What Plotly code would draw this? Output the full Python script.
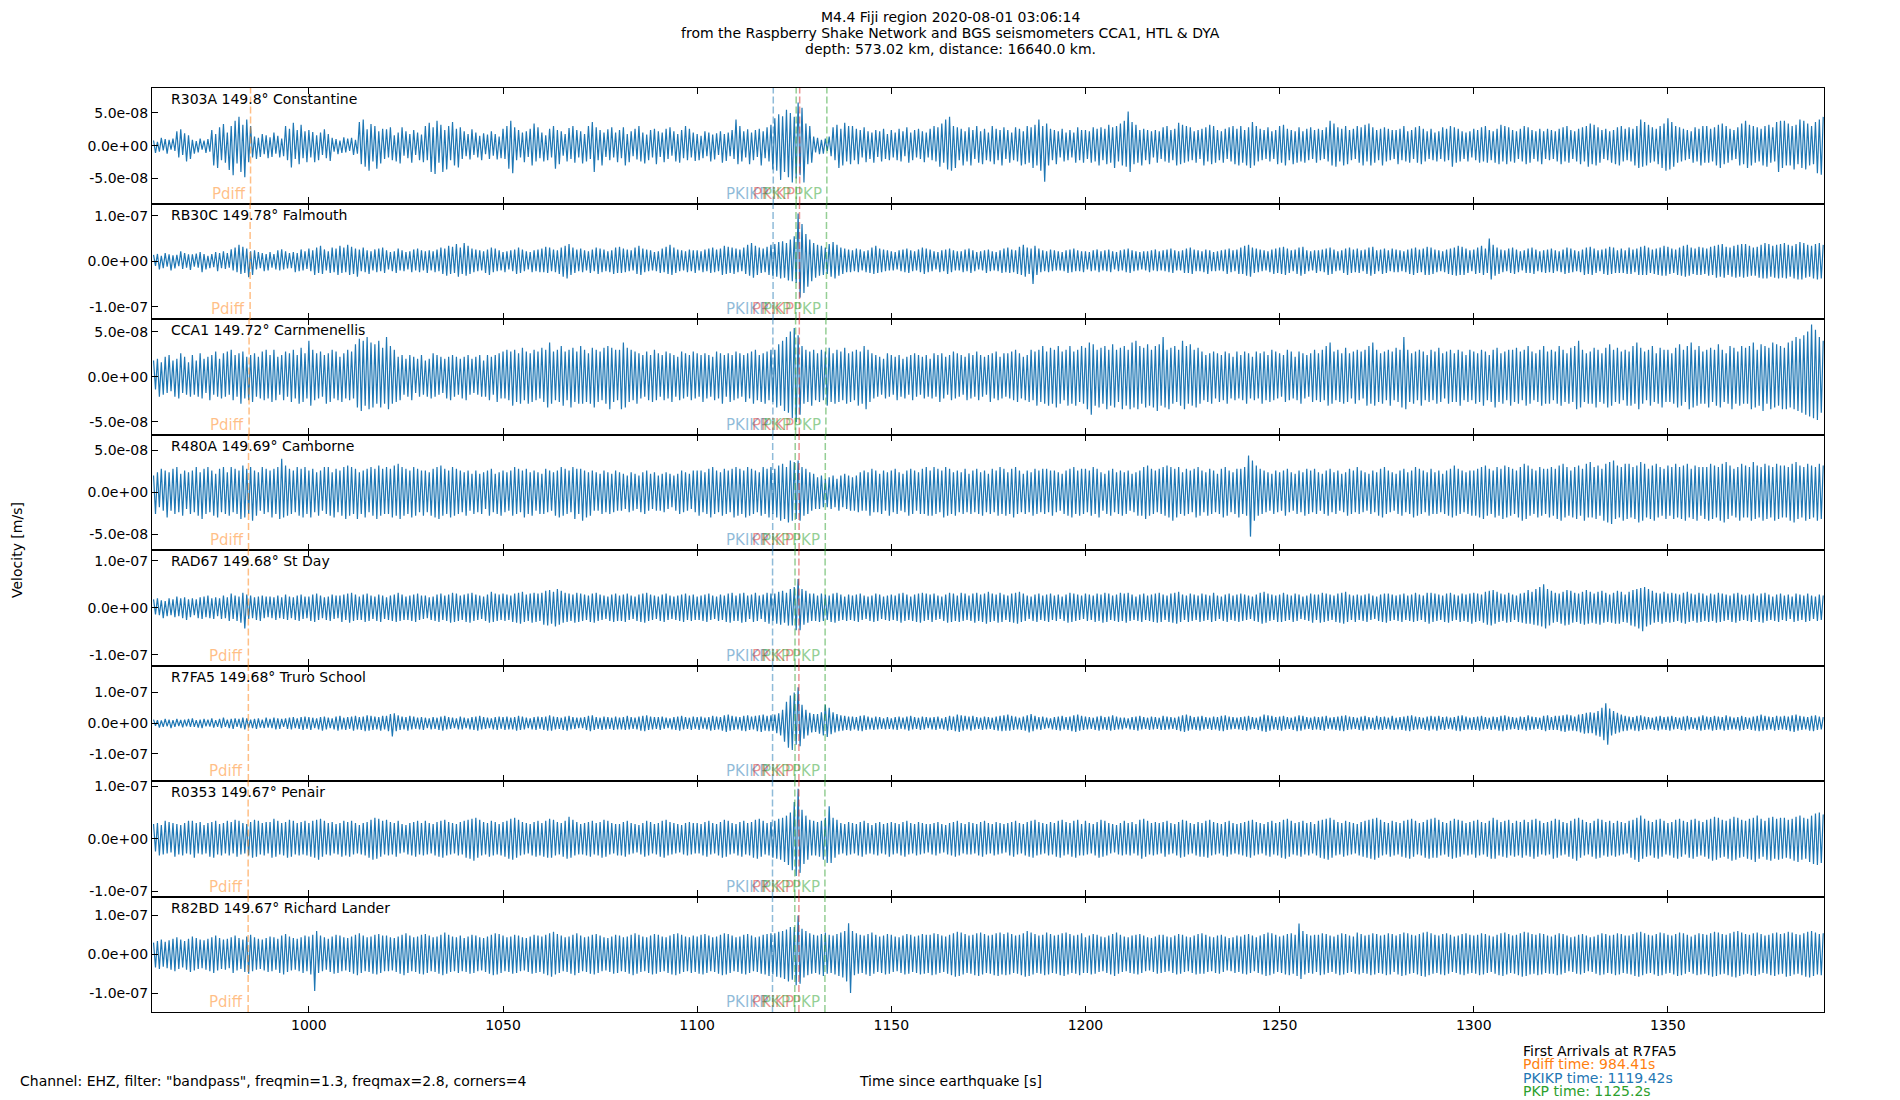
import numpy as np
import plotly.graph_objects as go
from plotly.subplots import make_subplots

# Figure geometry (pixels)
W, H = 1900, 1100
ML, MR, MT, MB = 152, 76, 88, 88

# Stations (top to bottom)
stations = ["R303A 149.8° Constantine", "RB30C 149.78° Falmouth", "CCA1 149.72° Carnmenellis",
            "R480A 149.69° Camborne", "RAD67 149.68° St Day", "R7FA5 149.68° Truro School",
            "R0353 149.67° Penair", "R82BD 149.67° Richard Lander"]

# Arrival times [s] per station
pdiff_t = [984.98, 984.87, 984.6, 984.46, 984.41, 984.41, 984.36, 984.36]
pkikp_t = [1119.6, 1119.55, 1119.5, 1119.45, 1119.42, 1119.42, 1119.4, 1119.4]
pkikp_refl_t = [1126.4, 1126.35, 1126.3, 1126.25, 1126.2, 1126.2, 1126.2, 1126.2]
pkp_t = [1125.5, 1125.45, 1125.35, 1125.25, 1125.2, 1125.2, 1125.15, 1125.15]
pkp2_t = [1133.4, 1133.3, 1133.15, 1133.0, 1132.95, 1132.95, 1132.9, 1132.9]

# y limits (m/s) and ticks per panel
y_half = [8.8e-8, 1.27e-7, 6.4e-8, 6.9e-8, 1.23e-7, 1.88e-7, 1.1e-7, 1.49e-7]
y_tick = [5e-8, 1e-7, 5e-8, 5e-8, 1e-7, 1e-7, 1e-7, 1e-7]

x_ticks = [1000, 1050, 1100, 1150, 1200, 1250, 1300, 1350]
x_range = [959.6, 1390.2]

# waveform samples in nm/s, one every half second from 960 s (each row = 10 s)
T0, DT = 960.0, 0.5

r303a = [
    8,-11,6,-9,12,-7,10,-12,9,-6,11,-8,22,-18,25,-14,19,-24,16,-20,
    9,-12,7,-10,11,-6,8,-11,10,-9,24,-30,18,-34,28,-22,33,-26,20,-37,
    30,-45,38,-27,44,-40,32,-48,40,-25,30,-18,14,-20,12,-17,18,-13,16,-19,
    13,-17,20,-12,15,-18,11,-16,30,-22,26,-33,35,-20,24,-28,32,-19,22,-25,
    24,-18,21,-25,16,-22,20,-14,25,-19,18,-23,12,-9,10,-13,8,-11,13,-10,
    11,-8,12,-14,9,-12,36,-28,40,-32,25,-38,33,-24,30,-35,22,-27,26,-20,
    25,-18,28,-22,16,-24,20,-27,28,-15,22,-19,18,-26,24,-14,20,-22,17,-25,
    30,-22,35,-40,28,-43,38,-26,32,-40,24,-36,30,-22,36,-30,26,-33,28,-20,
    22,-16,18,-21,25,-14,20,-18,15,-22,19,-13,17,-20,22,-15,18,-21,14,-19,
    26,-20,30,-35,38,-42,28,-22,24,-18,20,-25,22,-17,26,-30,34,-24,28,-19,
    20,-24,16,-22,26,-18,30,-35,24,-28,22,-15,18,-24,27,-20,30,-26,24,-18,
    22,-27,18,-24,30,-20,36,-40,28,-22,24,-30,20,-17,25,-22,28,-18,20,-25,
    24,-19,28,-30,18,-25,22,-16,26,-21,30,-24,20,-27,17,-22,24,-18,26,-28,
    22,-17,20,-25,26,-20,28,-15,22,-24,18,-26,24,-19,30,-22,26,-18,20,-23,
    18,-22,15,-19,22,-16,20,-24,17,-21,19,-14,22,-26,18,-23,20,-16,24,-20,
    40,-28,30,-24,22,-18,25,-28,20,-22,24,-17,26,-30,22,-19,28,-24,32,-36,
    42,-38,48,-52,45,-40,55,-48,50,-56,44,-50,66,-45,58,-56,34,-28,30,-26,
    14,-10,12,-13,9,-12,11,-8,14,-16,28,-22,32,-34,26,-30,35,-24,30,-28,
    30,-22,26,-28,24,-18,28,-25,22,-20,20,-26,24,-17,22,-24,26,-20,18,-22,
    24,-18,20,-22,26,-24,22,-16,28,-26,20,-22,24,-18,26,-20,22,-25,20,-18,
    26,-22,30,-24,28,-32,34,-26,40,-36,44,-38,30,-34,28,-22,26,-30,22,-24,
    28,-30,24,-20,30,-26,22,-28,26,-22,20,-24,30,-28,26,-22,24,-30,28,-20,
    24,-26,20,-22,28,-24,26,-30,22,-28,30,-26,28,-34,32,-30,40,-38,30,-55,
    34,-30,26,-22,24,-28,22,-18,26,-24,20,-22,24,-18,20,-26,28,-22,24,-26,
    24,-20,22,-26,28,-24,26,-30,28,-22,26,-28,32,-26,28,-34,30,-24,34,-30,
    38,-32,52,-40,36,-28,32,-26,24,-30,26,-22,24,-28,22,-18,24,-26,22,-20,
    28,-24,30,-26,24,-22,26,-30,35,-28,32,-26,30,-24,28,-22,22,-26,24,-20,
    26,-30,28,-24,32,-28,30,-26,24,-22,22,-26,26,-20,28,-24,30,-28,26,-30,
    30,-26,24,-30,28,-34,36,-30,30,-24,26,-22,24,-20,28,-24,22,-20,24,-28,
    30,-26,32,-30,26,-22,24,-28,22,-26,28,-24,22,-26,26,-22,28,-20,24,-26,
    26,-22,24,-20,28,-24,38,-30,34,-32,28,-24,26,-30,30,-28,24,-22,26,-20,
    30,-26,28,-30,32,-24,34,-30,28,-26,24,-22,26,-30,28,-24,26,-22,24,-20,
    24,-28,26,-22,30,-24,22,-26,24,-20,28,-26,30,-28,26,-24,22,-20,26,-22,
    20,-24,22,-20,28,-24,26,-22,30,-32,28,-26,26,-24,22,-20,20,-24,22,-18,
    26,-22,24,-26,28,-24,30,-26,24,-22,22,-26,26,-28,32,-24,30,-28,28,-24,
    24,-26,22,-20,26,-24,30,-28,28,-26,24,-20,22,-24,26,-28,22,-20,26,-22,
    24,-20,22,-24,26,-28,28,-24,30,-26,24,-20,22,-24,26,-28,28,-24,30,-32,
    34,-28,32,-30,28,-26,24,-20,26,-22,22,-26,24,-28,28,-30,30,-24,26,-22,
    28,-24,26,-30,30,-34,40,-32,36,-30,32,-26,28,-24,26,-28,30,-34,34,-38,
    42,-36,36,-32,30,-26,28,-24,26,-22,24,-20,22,-26,28,-24,26,-30,30,-26,
    30,-26,26,-24,28,-30,32,-34,34,-28,30,-26,26,-22,24,-20,28,-30,34,-28,
    38,-34,32,-30,30,-26,28,-24,26,-30,30,-32,32,-26,28,-24,36,-40,38,-34,
    38,-30,34,-30,30,-36,32,-28,40,-34,38,-36,34,-30,30,-28,36,-42,40,-44,
    44,
]

rb30c = [
    14,-10,16,-18,12,-15,18,-12,15,-20,13,-16,14,-11,22,-17,18,-14,15,-19,
    15,-12,17,-14,20,-24,16,-18,12,-15,16,-13,20,-22,18,-15,22,-17,18,-14,
    26,-20,30,-24,36,-28,32,-26,28,-35,22,-30,24,-18,20,-15,18,-22,16,-20,
    20,-14,16,-18,24,-20,26,-18,22,-16,18,-15,20,-24,18,-22,26,-20,22,-17,
    28,-22,24,-30,30,-26,34,-28,26,-20,22,-26,30,-24,28,-30,34,-26,30,-24,
    36,-30,32,-28,28,-34,26,-22,30,-24,24,-28,22,-20,26,-24,28,-22,30,-26,
    24,-18,20,-22,22,-26,28,-20,24,-22,20,-18,22,-24,26,-20,28,-24,24,-20,
    22,-26,24,-20,22,-24,26,-22,30,-28,28,-32,34,-28,32,-26,38,-34,30,-28,
    40,-32,34,-28,28,-24,26,-22,24,-20,22,-26,26,-30,30,-24,28,-22,24,-20,
    20,-24,22,-18,24,-22,26,-28,30,-26,26,-22,22,-18,20,-24,24,-22,26,-24,
    28,-24,32,-26,30,-22,26,-24,24,-28,30,-34,34,-38,38,-30,30,-26,26,-22,
    28,-24,24,-20,22,-26,26,-22,30,-28,28,-24,26,-22,22,-24,24,-28,30,-26,
    32,-26,28,-24,26,-22,24,-20,30,-28,34,-30,28,-24,26,-22,24,-20,20,-22,
    22,-26,28,-24,32,-28,36,-30,30,-26,26,-22,24,-20,22,-24,26,-22,24,-26,
    24,-20,22,-24,26,-22,28,-26,30,-24,26,-22,28,-30,34,-28,32,-26,30,-28,
    28,-24,26,-22,30,-28,36,-32,40,-36,34,-30,30,-26,28,-24,32,-30,36,-32,
    38,-34,42,-38,44,-36,40,-42,48,-44,55,-48,105,-80,82,-70,60,-56,48,-44,
    40,-36,36,-32,34,-30,30,-28,38,-34,42,-38,36,-32,30,-28,28,-24,26,-24,
    24,-22,28,-24,26,-20,22,-24,24,-26,30,-28,34,-26,28,-24,26,-22,24,-20,
    22,-20,20,-18,24,-22,26,-24,28,-26,24,-22,22,-20,26,-24,30,-28,28,-24,
    26,-22,22,-18,20,-24,24,-22,26,-28,28,-24,24,-20,22,-20,22,-24,26,-22,
    28,-26,24,-22,20,-18,22,-20,24,-26,26,-22,22,-20,20,-22,24,-26,28,-24,
    30,-26,26,-24,24,-28,32,-30,36,-34,30,-28,28,-50,34,-30,28,-24,24,-22,
    22,-24,26,-22,24,-20,22,-20,20,-22,24,-26,26,-24,28,-22,24,-22,22,-24,
    22,-18,20,-22,24,-20,26,-24,22,-20,24,-22,26,-24,22,-18,20,-22,24,-20,
    26,-24,28,-26,24,-22,22,-20,20,-18,22,-20,22,-24,24,-20,26,-22,22,-20,
    24,-22,26,-24,28,-26,24,-20,22,-20,24,-26,28,-26,30,-28,26,-22,24,-22,
    22,-24,26,-28,24,-22,20,-22,22,-20,24,-22,26,-28,28,-24,24,-22,26,-28,
    30,-28,34,-32,36,-34,30,-26,28,-24,26,-22,24,-20,22,-24,26,-28,28,-26,
    30,-28,32,-30,28,-26,24,-22,26,-28,30,-32,32,-28,24,-22,22,-20,24,-26,
    24,-22,26,-24,28,-30,30,-28,26,-22,22,-20,24,-26,28,-30,30,-26,26,-24,
    28,-26,24,-22,26,-28,30,-32,32,-28,24,-22,26,-28,28,-26,24,-22,28,-24,
    26,-24,24,-22,22,-24,26,-28,28,-30,30,-26,26,-24,28,-30,32,-30,30,-28,
    26,-24,24,-22,22,-24,26,-28,28,-30,30,-32,34,-30,32,-30,28,-26,24,-22,
    26,-28,30,-26,34,-30,28,-26,50,-40,36,-32,30,-28,26,-24,24,-22,28,-26,
    30,-28,26,-24,22,-20,24,-26,28,-26,30,-28,26,-22,22,-24,24,-26,26,-24,
    28,-26,24,-22,22,-24,26,-28,30,-26,28,-24,24,-22,22,-24,26,-30,30,-28,
    32,-30,28,-26,24,-22,26,-28,28,-30,32,-28,30,-26,24,-26,28,-26,24,-28,
    30,-28,26,-24,28,-30,32,-30,34,-30,30,-26,26,-28,28,-30,30,-32,34,-32,
    32,-28,28,-26,26,-30,30,-32,34,-34,36,-32,30,-28,28,-30,32,-30,30,-28,
    28,-32,32,-30,34,-36,36,-34,38,-36,32,-30,30,-34,34,-36,36,-34,38,-36,
    38,-34,34,-32,30,-32,32,-36,36,-38,40,-38,38,-34,34,-36,36,-38,38,-36,
    40,-38,36,-34,34,-38,38,-40,42,-40,40,-36,36,-34,34,-38,38,-40,40,-38,
    36,
]

cca1 = [
    18,-14,20,-22,16,-20,22,-18,24,-16,18,-22,20,-24,26,-18,22,-20,16,-22,
    24,-20,18,-22,26,-24,20,-18,22,-26,24,-20,28,-22,20,-24,26,-22,28,-20,
    30,-26,24,-22,26,-30,28,-24,22,-26,24,-28,26,-22,22,-24,28,-26,30,-24,
    24,-28,30,-26,22,-20,24,-26,28,-22,26,-28,30,-24,24,-30,32,-28,26,-24,
    40,-32,30,-26,26,-24,28,-22,24,-30,26,-28,30,-24,28,-26,22,-28,26,-24,
    30,-26,28,-24,36,-34,42,-38,40,-32,44,-36,38,-34,36,-30,40,-34,32,-30,
    44,-36,34,-30,30,-28,22,-26,24,-20,20,-22,24,-26,22,-18,20,-22,24,-20,
    18,-22,20,-24,26,-22,24,-20,22,-18,20,-24,22,-26,24,-22,22,-20,20,-24,
    22,-26,24,-20,20,-18,22,-20,24,-22,18,-22,24,-26,22,-20,24,-28,26,-24,
    28,-24,30,-26,28,-32,30,-28,26,-30,32,-26,28,-30,26,-28,30,-26,28,-24,
    32,-28,30,-34,38,-30,28,-26,30,-28,34,-32,28,-26,30,-34,32,-28,28,-30,
    34,-30,30,-28,26,-30,32,-34,30,-28,28,-26,32,-30,34,-36,32,-28,30,-26,
    30,-36,38,-34,32,-28,30,-26,28,-30,26,-24,24,-22,28,-26,24,-28,30,-26,
    26,-22,24,-26,28,-24,26,-28,24,-22,22,-26,28,-24,26,-22,24,-26,28,-24,
    26,-22,24,-28,26,-24,24,-22,22,-26,28,-24,26,-30,24,-22,26,-28,24,-26,
    28,-24,26,-22,24,-28,26,-24,28,-30,30,-26,24,-28,26,-30,28,-26,30,-28,
    30,-34,36,-32,40,-38,44,-40,50,-46,54,-50,46,-42,34,-30,30,-28,28,-32,
    30,-26,26,-28,30,-26,28,-32,32,-28,26,-30,30,-28,28,-26,32,-30,26,-28,
    28,-26,30,-32,28,-30,34,-36,30,-28,26,-24,24,-22,22,-20,20,-24,26,-22,
    24,-20,22,-26,24,-22,20,-24,22,-20,24,-26,26,-22,24,-20,22,-24,24,-22,
    20,-24,26,-22,24,-28,26,-24,22,-20,24,-26,28,-24,26,-22,24,-20,22,-26,
    26,-24,24,-22,28,-26,24,-22,22,-20,24,-28,26,-24,28,-26,22,-24,26,-22,
    26,-24,28,-26,30,-28,26,-24,22,-26,24,-28,30,-26,28,-32,30,-28,34,-30,
    28,-32,32,-30,30,-34,34,-30,28,-26,30,-32,34,-30,28,-32,30,-28,34,-30,
    32,-36,38,-42,36,-32,30,-34,32,-30,34,-36,30,-32,36,-34,30,-28,32,-36,
    34,-32,30,-36,38,-34,40,-36,34,-30,32,-34,36,-32,30,-34,34,-38,36,-32,
    44,-34,30,-36,32,-30,34,-28,30,-32,40,-36,34,-30,36,-32,30,-34,32,-30,
    28,-26,24,-28,26,-30,28,-24,26,-28,24,-26,28,-30,26,-24,22,-26,28,-24,
    24,-26,28,-30,26,-24,22,-26,28,-24,26,-30,28,-26,24,-28,30,-26,28,-24,
    26,-22,24,-28,30,-26,28,-24,22,-26,28,-30,26,-24,24,-22,26,-28,30,-26,
    26,-28,30,-26,34,-32,38,-30,28,-26,30,-28,26,-30,32,-28,26,-24,28,-30,
    30,-26,28,-24,30,-32,34,-30,38,-32,30,-28,26,-30,28,-26,30,-32,28,-26,
    32,-28,30,-34,44,-36,30,-28,26,-30,28,-26,30,-32,28,-26,24,-28,30,-26,
    28,-30,32,-28,26,-24,28,-30,30,-28,26,-28,30,-32,28,-26,24,-28,30,-26,
    28,-30,26,-28,30,-32,28,-26,24,-28,30,-34,32,-28,26,-30,28,-26,30,-32,
    30,-28,32,-30,28,-26,30,-32,34,-30,28,-26,26,-28,30,-32,34,-30,28,-30,
    30,-26,28,-30,34,-32,30,-28,26,-30,32,-28,34,-36,40,-34,30,-28,26,-30,
    28,-30,32,-34,30,-28,26,-30,32,-34,36,-32,30,-28,32,-30,28,-26,30,-32,
    28,-32,34,-30,38,-36,32,-30,28,-26,30,-32,34,-28,26,-30,32,-34,30,-28,
    30,-28,26,-30,32,-34,36,-32,30,-28,34,-36,38,-34,30,-32,34,-30,28,-30,
    30,-34,32,-28,30,-32,36,-34,30,-28,26,-30,34,-36,32,-30,28,-32,34,-30,
    32,-30,34,-36,38,-34,30,-32,36,-38,34,-30,32,-36,38,-34,36,-32,34,-36,
    32,-36,38,-34,40,-36,44,-38,42,-40,46,-42,50,-44,58,-46,52,-48,44,-40,
    40,
]

r480a = [
    20,-26,24,-18,28,-22,26,-30,24,-22,28,-26,30,-24,22,-28,26,-20,24,-26,
    26,-24,30,-28,24,-32,28,-26,30,-24,26,-28,22,-30,28,-24,30,-26,24,-28,
    30,-24,28,-26,26,-32,32,-30,28,-26,30,-34,26,-28,24,-22,30,-26,28,-24,
    26,-30,28,-26,30,-32,40,-30,32,-28,28,-26,26,-24,30,-28,28,-30,30,-26,
    26,-30,28,-24,24,-28,26,-22,30,-26,30,-28,24,-30,28,-24,26,-28,30,-32,
    32,-28,30,-26,28,-32,24,-26,26,-30,28,-24,30,-28,28,-32,32,-28,28,-26,
    30,-26,28,-30,32,-28,34,-32,30,-28,28,-26,26,-30,30,-28,28,-24,26,-28,
    26,-24,24,-28,28,-30,30,-32,32,-28,28,-26,26,-30,30,-28,28,-26,26,-24,
    24,-28,26,-22,22,-26,26,-24,22,-26,24,-20,26,-28,28,-24,22,-26,24,-28,
    26,-24,24,-22,26,-28,30,-26,28,-24,26,-30,28,-26,24,-28,26,-22,24,-26,
    22,-26,28,-24,26,-22,24,-28,26,-30,30,-28,28,-26,26,-24,30,-32,28,-26,
    28,-34,26,-30,24,-28,26,-22,24,-22,22,-26,26,-24,24,-26,22,-24,26,-22,
    24,-22,22,-20,20,-24,24,-22,22,-20,20,-24,24,-26,26,-22,22,-20,24,-22,
    20,-22,22,-24,24,-20,22,-18,20,-22,22,-26,26,-24,24,-22,22,-20,26,-24,
    26,-28,26,-24,24,-26,28,-30,30,-26,26,-24,24,-28,28,-26,26,-24,28,-30,
    30,-28,28,-26,26,-30,30,-28,28,-26,26,-24,24,-28,30,-26,28,-30,30,-26,
    28,-30,32,-34,34,-32,30,-36,38,-34,36,-32,38,-34,30,-28,28,-26,24,-22,
    22,-20,18,-20,20,-18,16,-18,18,-20,20,-18,16,-22,20,-18,22,-20,20,-22,
    18,-22,20,-24,24,-22,26,-22,24,-28,28,-24,26,-24,22,-26,26,-22,24,-28,
    26,-24,28,-26,24,-22,22,-24,26,-28,28,-26,26,-22,24,-26,28,-26,30,-28,
    26,-28,30,-26,28,-24,26,-30,30,-28,28,-26,24,-28,26,-24,24,-26,28,-24,
    22,-26,26,-24,28,-26,24,-28,26,-24,22,-26,28,-24,26,-28,30,-26,28,-28,
    24,-26,28,-30,30,-26,26,-24,22,-26,26,-24,24,-28,28,-26,26,-24,28,-26,
    28,-24,26,-28,26,-24,24,-22,22,-26,26,-28,28,-30,30,-26,26,-28,28,-26,
    28,-24,26,-28,30,-26,28,-30,24,-22,22,-26,26,-28,28,-24,24,-26,26,-28,
    24,-26,26,-22,22,-24,24,-28,26,-28,30,-32,32,-28,28,-26,26,-24,28,-26,
    30,-28,32,-30,30,-34,28,-30,30,-26,24,-28,28,-26,26,-24,28,-30,30,-28,
    26,-24,24,-28,28,-26,26,-24,22,-26,28,-30,30,-28,26,-24,24,-26,28,-30,
    28,-26,30,-28,44,-53,38,-34,32,-28,28,-26,26,-24,24,-22,22,-26,26,-24,
    24,-22,26,-28,28,-24,24,-22,22,-26,26,-24,24,-28,28,-26,26,-24,28,-26,
    24,-22,22,-26,26,-28,28,-24,24,-26,26,-22,22,-24,24,-28,28,-26,26,-24,
    30,-26,26,-24,24,-22,22,-26,26,-24,24,-28,28,-30,30,-26,26,-24,24,-22,
    22,-26,26,-28,28,-24,24,-26,26,-30,30,-28,28,-26,26,-24,24,-28,28,-26,
    24,-26,26,-24,22,-26,26,-28,28,-30,32,-28,28,-26,26,-24,24,-26,26,-28,
    26,-28,28,-30,30,-32,32,-28,28,-26,26,-30,30,-28,28,-32,32,-30,30,-28,
    28,-26,26,-30,30,-34,34,-32,32,-28,28,-26,26,-30,30,-28,28,-26,28,-30,
    30,-28,28,-32,32,-34,34,-30,30,-28,26,-30,30,-32,32,-28,28,-34,34,-30,
    36,-30,30,-32,32,-28,28,-34,34,-36,36,-38,38,-32,32,-30,30,-34,34,-32,
    34,-30,30,-32,32,-36,36,-34,34,-30,28,-32,32,-34,34,-30,30,-28,28,-32,
    32,-28,30,-32,34,-30,30,-32,32,-34,34,-30,28,-32,32,-34,30,-28,30,-32,
    30,-34,34,-32,32,-30,30,-34,34,-36,36,-32,32,-28,28,-30,30,-34,34,-30,
    32,-30,30,-34,36,-32,32,-30,30,-34,34,-32,32,-30,30,-34,34,-32,32,-30,
    32,-30,30,-34,34,-36,36,-32,32,-30,30,-34,34,-32,32,-30,30,-34,34,-32,
    32,
]

rad67 = [
    18,-14,20,-16,16,-22,14,-18,20,-16,18,-20,24,-18,20,-22,22,-26,18,-20,
    20,-16,18,-22,22,-24,24,-20,26,-22,20,-24,22,-18,20,-24,26,-22,22,-28,
    30,-24,26,-28,24,-32,32,-44,28,-24,26,-22,22,-26,24,-28,26,-22,24,-20,
    24,-22,22,-26,26,-22,22,-24,28,-26,24,-22,22,-26,26,-28,28,-24,24,-22,
    24,-28,28,-30,30,-26,26,-22,22,-26,24,-28,28,-24,26,-22,26,-30,28,-26,
    30,-32,32,-28,28,-26,24,-26,28,-30,30,-28,26,-24,24,-28,28,-30,26,-24,
    22,-26,26,-28,28,-30,32,-28,28,-26,24,-26,26,-28,28,-30,30,-26,26,-24,
    26,-22,22,-26,24,-28,28,-30,30,-26,26,-28,28,-32,32,-30,30,-28,26,-26,
    28,-30,30,-32,32,-28,28,-26,26,-24,24,-28,28,-32,34,-30,30,-28,28,-26,
    30,-28,28,-26,26,-30,30,-32,32,-34,34,-30,28,-28,30,-32,32,-30,30,-28,
    32,-36,36,-38,38,-34,34,-40,40,-36,36,-32,32,-30,30,-28,28,-32,32,-30,
    30,-28,28,-26,26,-30,30,-32,32,-28,28,-26,26,-24,24,-28,28,-30,30,-28,
    26,-28,28,-30,30,-26,26,-24,24,-28,28,-30,30,-32,32,-28,28,-26,26,-24,
    24,-28,28,-30,30,-26,26,-24,24,-26,26,-28,28,-30,30,-26,26,-28,28,-26,
    24,-26,26,-28,28,-30,30,-26,26,-24,24,-28,28,-26,26,-30,30,-32,32,-28,
    26,-28,30,-32,32,-30,26,-24,28,-30,32,-28,26,-24,28,-30,32,-34,30,-28,
    30,-34,34,-36,36,-32,32,-38,40,-38,44,-48,61,-48,40,-36,36,-32,30,-28,
    30,-28,26,-30,30,-28,28,-26,26,-30,30,-32,32,-28,28,-26,24,-28,28,-26,
    26,-28,28,-30,30,-26,26,-24,24,-28,26,-30,30,-28,28,-24,24,-26,26,-28,
    28,-26,26,-28,30,-32,32,-28,28,-26,24,-28,28,-30,30,-32,32,-28,30,-26,
    28,-30,30,-26,26,-24,24,-28,28,-32,32,-30,30,-28,26,-30,32,-28,30,-26,
    26,-28,30,-32,32,-28,28,-30,30,-34,34,-30,30,-28,28,-32,32,-30,28,-26,
    26,-30,30,-32,32,-34,34,-30,30,-28,26,-24,24,-28,28,-30,30,-26,26,-28,
    28,-30,30,-26,26,-28,28,-24,24,-28,28,-32,32,-30,30,-28,28,-26,26,-24,
    30,-28,28,-26,26,-30,30,-28,28,-32,32,-30,30,-26,26,-28,28,-30,32,-28,
    30,-32,32,-28,28,-26,24,-28,28,-30,30,-26,26,-28,28,-30,30,-32,32,-30,
    28,-26,26,-30,30,-32,32,-34,34,-30,28,-26,26,-30,30,-28,28,-26,26,-30,
    30,-28,28,-26,26,-30,32,-28,26,-24,24,-28,28,-30,30,-26,26,-28,28,-30,
    30,-28,28,-26,26,-24,24,-28,28,-30,32,-34,34,-32,30,-28,28,-26,26,-30,
    28,-30,32,-28,28,-26,26,-30,30,-28,28,-24,24,-26,26,-28,30,-32,28,-26,
    28,-32,32,-30,30,-28,28,-26,26,-30,30,-32,32,-34,34,-30,28,-26,26,-30,
    28,-26,26,-28,28,-30,30,-26,26,-24,24,-28,28,-30,30,-32,30,-28,28,-26,
    26,-28,28,-30,30,-26,26,-28,28,-30,32,-28,28,-26,26,-30,32,-34,32,-30,
    30,-28,28,-26,26,-30,30,-32,32,-28,28,-26,26,-30,30,-28,28,-30,30,-34,
    32,-30,30,-28,28,-32,34,-36,36,-38,38,-34,34,-30,30,-28,28,-32,32,-30,
    28,-26,26,-30,30,-32,32,-34,38,-34,34,-36,40,-38,44,-40,50,-44,40,-38,
    36,-32,32,-30,30,-34,34,-38,38,-36,36,-32,32,-30,30,-34,34,-36,38,-34,
    34,-32,30,-34,34,-36,36,-32,32,-30,28,-32,32,-34,36,-34,34,-30,28,-32,
    34,-38,38,-40,40,-44,42,-50,44,-40,40,-36,36,-32,32,-30,30,-34,34,-30,
    30,-32,32,-30,30,-28,28,-32,32,-34,34,-30,30,-28,28,-32,32,-30,30,-28,
    26,-30,30,-28,28,-32,32,-30,30,-28,28,-26,26,-30,30,-32,32,-28,28,-26,
    26,-28,28,-30,30,-26,26,-30,30,-32,32,-28,28,-26,24,-28,28,-30,30,-26,
    26,-28,28,-24,24,-30,30,-28,28,-26,26,-30,30,-28,26,-24,24,-28,28,-26,
    26,
]

r7fa5 = [
    12,-8,10,-14,9,-12,14,-10,12,-16,10,-12,14,-9,11,-13,12,-10,14,-12,
    16,-12,10,-14,12,-16,14,-10,12,-11,16,-14,10,-12,14,-16,18,-12,12,-16,
    14,-18,16,-12,14,-16,18,-20,16,-14,12,-16,14,-18,16,-14,12,-16,18,-14,
    14,-16,18,-20,16,-18,14,-12,16,-18,18,-20,20,-16,16,-18,20,-22,22,-18,
    20,-22,18,-16,16,-20,20,-24,22,-20,18,-16,16,-20,22,-24,24,-20,18,-22,
    20,-18,22,-24,24,-20,20,-22,22,-26,26,-24,24,-22,22,-20,20,-24,24,-20,
    24,-26,30,-43,32,-26,26,-22,22,-20,20,-24,24,-20,22,-18,18,-20,20,-22,
    18,-16,16,-20,20,-18,18,-22,22,-24,24,-20,20,-18,18,-16,16,-20,22,-20,
    18,-16,16,-20,20,-22,22,-24,24,-20,20,-18,18,-16,16,-20,20,-22,22,-18,
    20,-22,22,-20,18,-20,20,-24,24,-22,22,-20,18,-16,16,-20,20,-22,22,-18,
    20,-22,22,-24,26,-24,22,-20,20,-18,18,-22,22,-24,24,-20,20,-18,18,-16,
    18,-16,20,-22,24,-26,26,-22,20,-18,18,-22,22,-20,20,-18,18,-22,22,-20,
    18,-20,20,-22,24,-20,20,-18,18,-20,22,-24,24,-26,26,-22,22,-20,20,-18,
    20,-22,22,-18,18,-16,16,-20,20,-22,22,-24,24,-20,20,-18,18,-22,22,-18,
    20,-22,22,-18,18,-20,20,-24,24,-22,22,-20,20,-24,26,-28,28,-24,24,-22,
    22,-20,20,-24,24,-26,26,-22,22,-20,24,-26,26,-28,28,-24,24,-26,26,-24,
    28,-32,32,-40,44,-60,70,-80,90,-87,100,-70,117,-75,60,-50,44,-40,34,-30,
    30,-28,30,-34,36,-40,60,-45,50,-36,36,-30,30,-26,26,-24,24,-22,22,-24,
    22,-20,20,-24,24,-26,26,-22,22,-20,18,-22,22,-20,20,-18,16,-20,20,-18,
    16,-20,20,-22,22,-18,18,-20,22,-24,24,-20,20,-18,18,-22,22,-20,20,-16,
    18,-20,20,-22,22,-18,16,-20,20,-24,24,-22,22,-26,28,-28,26,-24,24,-20,
    22,-24,24,-20,20,-18,18,-22,22,-20,20,-18,18,-22,22,-24,24,-26,26,-24,
    28,-24,24,-22,22,-20,18,-22,22,-24,26,-30,30,-26,24,-20,20,-22,22,-18,
    18,-16,16,-20,20,-22,22,-24,24,-20,20,-22,22,-26,26,-28,28,-24,24,-22,
    22,-20,20,-18,18,-22,22,-24,24,-20,20,-22,22,-24,26,-22,22,-20,18,-20,
    18,-16,16,-20,20,-22,22,-24,24,-20,20,-18,18,-22,22,-20,20,-18,18,-22,
    24,-22,22,-20,20,-18,18,-22,22,-26,26,-28,28,-24,24,-20,20,-22,22,-24,
    24,-20,20,-18,18,-22,22,-20,20,-24,24,-26,26,-22,22,-20,20,-18,18,-20,
    20,-22,22,-24,24,-20,20,-18,18,-22,22,-26,28,-28,26,-24,24,-20,20,-22,
    22,-24,24,-20,20,-18,18,-22,22,-26,26,-24,24,-20,20,-18,18,-22,22,-20,
    20,-22,22,-24,24,-18,18,-20,20,-22,22,-24,24,-26,26,-22,22,-20,20,-18,
    18,-22,22,-24,24,-20,20,-18,18,-22,24,-20,20,-22,22,-18,18,-20,24,-22,
    18,-20,20,-22,22,-24,24,-26,26,-22,22,-20,20,-18,18,-22,22,-24,24,-20,
    22,-24,24,-20,20,-22,22,-18,18,-20,20,-24,24,-26,26,-22,22,-20,18,-22,
    20,-22,22,-24,24,-20,20,-18,18,-22,22,-20,20,-24,24,-26,26,-22,22,-20,
    20,-18,18,-22,22,-20,20,-24,26,-22,22,-20,20,-18,18,-22,24,-26,26,-22,
    20,-22,24,-22,24,-26,26,-28,28,-24,26,-24,22,-26,28,-30,30,-34,34,-32,
    36,-32,34,-40,40,-44,50,-55,65,-70,48,-40,40,-34,34,-30,28,-26,24,-24,
    22,-20,20,-24,24,-26,26,-22,22,-20,20,-18,18,-22,22,-24,24,-20,20,-22,
    22,-24,24,-20,20,-18,18,-22,22,-24,24,-20,20,-18,18,-22,22,-24,26,-22,
    22,-20,20,-24,24,-22,22,-20,20,-24,26,-22,22,-20,18,-20,20,-24,24,-22,
    20,-18,18,-22,22,-24,24,-26,28,-24,24,-22,22,-20,20,-24,24,-22,22,-20,
    24,-22,22,-26,26,-28,28,-24,24,-22,22,-20,20,-24,24,-26,26,-22,22,-20,
    20,
]

r0353 = [
    28,-24,30,-32,26,-30,34,-28,32,-26,30,-34,28,-30,26,-32,30,-28,34,-30,
    34,-36,30,-28,32,-30,26,-28,30,-34,32,-36,34,-30,28,-32,30,-28,34,-32,
    32,-28,36,-34,34,-30,30,-28,28,-32,32,-36,36,-34,34,-30,30,-32,32,-28,
    32,-36,38,-34,34,-30,30,-32,32,-36,36,-34,34,-30,30,-32,32,-30,34,-32,
    30,-34,34,-36,36,-40,38,-34,34,-30,30,-32,32,-28,28,-30,30,-34,34,-32,
    32,-34,34,-30,30,-28,26,-30,30,-32,32,-36,36,-40,40,-38,38,-34,34,-30,
    36,-32,32,-30,30,-34,34,-28,28,-26,26,-30,30,-32,32,-34,34,-30,30,-32,
    34,-30,30,-28,28,-32,32,-34,34,-36,36,-32,32,-30,30,-28,28,-32,32,-30,
    34,-36,36,-38,38,-42,40,-36,36,-32,32,-30,30,-34,34,-32,32,-30,28,-32,
    32,-34,34,-38,38,-40,40,-36,36,-32,32,-30,30,-28,28,-32,32,-34,34,-32,
    30,-34,34,-36,38,-36,36,-32,32,-30,30,-34,34,-38,42,-36,36,-32,32,-30,
    28,-30,30,-32,32,-34,34,-30,30,-32,32,-36,36,-34,34,-30,30,-28,28,-32,
    28,-32,32,-34,34,-30,30,-28,28,-26,26,-30,30,-34,34,-32,32,-28,28,-30,
    30,-34,34,-36,36,-32,32,-30,30,-28,28,-26,26,-30,30,-32,32,-30,30,-28,
    30,-28,28,-32,32,-34,34,-30,30,-28,28,-32,32,-36,36,-34,34,-30,30,-28,
    28,-32,32,-34,34,-30,30,-32,32,-36,36,-38,38,-34,34,-30,30,-32,32,-36,
    34,-38,38,-40,40,-44,44,-50,50,-60,70,-71,95,-65,55,-48,44,-40,36,-32,
    34,-32,32,-34,34,-40,40,-46,62,-46,40,-36,36,-30,30,-28,28,-32,32,-30,
    30,-28,28,-32,32,-34,34,-30,30,-28,26,-30,30,-32,32,-28,28,-30,30,-34,
    32,-30,30,-28,28,-32,32,-34,34,-30,30,-28,28,-32,32,-30,30,-28,28,-26,
    28,-30,30,-32,32,-28,28,-26,26,-30,30,-32,32,-34,34,-32,30,-28,28,-30,
    32,-30,30,-28,28,-32,32,-34,34,-30,30,-28,28,-32,32,-30,30,-28,28,-26,
    30,-32,32,-34,34,-30,30,-28,28,-32,32,-34,34,-36,36,-32,32,-30,30,-28,
    28,-32,32,-30,30,-34,34,-36,36,-32,32,-30,30,-34,34,-36,36,-32,28,-32,
    34,-30,30,-28,28,-32,32,-36,36,-34,34,-32,30,-28,28,-26,26,-30,30,-32,
    34,-30,30,-32,32,-28,28,-32,36,-38,38,-34,34,-30,30,-32,32,-30,30,-28,
    32,-34,34,-30,30,-28,28,-32,32,-36,36,-34,34,-30,30,-28,28,-32,32,-34,
    30,-34,34,-36,36,-32,32,-30,30,-28,28,-32,32,-34,34,-30,30,-28,28,-30,
    30,-32,32,-34,34,-36,36,-32,32,-30,30,-28,28,-32,32,-34,34,-30,30,-32,
    32,-36,36,-38,38,-34,34,-30,30,-32,32,-34,34,-30,30,-32,32,-28,28,-32,
    34,-36,36,-38,38,-40,40,-36,36,-32,32,-30,30,-34,34,-32,32,-30,30,-28,
    28,-32,32,-34,34,-36,36,-38,38,-40,40,-36,36,-32,32,-30,30,-34,34,-32,
    32,-30,30,-34,34,-36,36,-38,38,-34,34,-30,30,-32,32,-36,36,-38,38,-36,
    40,-36,36,-32,32,-30,30,-34,34,-38,38,-36,36,-34,34,-30,30,-32,32,-30,
    34,-36,36,-32,32,-30,30,-34,34,-38,40,-38,36,-32,32,-34,34,-36,36,-32,
    30,-34,34,-32,32,-36,36,-32,32,-34,36,-38,38,-34,34,-30,30,-32,32,-30,
    34,-38,38,-36,36,-32,32,-30,30,-34,34,-38,38,-42,40,-36,36,-32,32,-30,
    30,-34,34,-38,38,-36,36,-32,32,-34,34,-32,30,-34,34,-32,32,-30,30,-28,
    34,-36,36,-40,40,-44,44,-38,38,-34,34,-32,32,-36,36,-38,38,-34,34,-30,
    30,-32,32,-36,36,-38,38,-34,34,-30,32,-36,36,-38,38,-34,34,-32,32,-34,
    36,-38,38,-42,42,-40,40,-36,36,-34,34,-38,38,-42,42,-40,40,-36,36,-34,
    34,-38,38,-40,40,-44,44,-38,38,-34,34,-40,40,-42,42,-38,38,-40,40,-38,
    40,-36,36,-38,38,-42,42,-44,44,-40,40,-38,38,-44,44,-48,48,-50,50,-46,
    46,
]

r82bd = [
    30,-34,34,-38,38,-32,32,-36,36,-40,40,-44,44,-38,38,-34,34,-40,40,-46,
    46,-42,42,-38,38,-36,36,-40,40,-44,44,-48,48,-42,42,-38,38,-40,40,-36,
    44,-48,48,-42,42,-38,38,-46,46,-50,50,-44,44,-40,40,-38,38,-42,42,-46,
    46,-44,44,-40,40,-48,48,-52,52,-46,46,-42,42,-40,40,-44,44,-48,48,-44,
    46,-52,50,-95,60,-48,48,-44,44,-40,40,-46,46,-50,50,-48,48,-44,44,-42,
    42,-46,46,-50,50,-54,54,-48,48,-44,44,-46,46,-50,50,-52,52,-48,48,-44,
    48,-44,44,-42,42,-46,46,-50,50,-54,54,-48,48,-44,44,-46,46,-50,50,-52,
    52,-48,48,-44,44,-46,46,-50,50,-54,56,-50,50,-46,46,-44,44,-48,48,-44,
    42,-46,46,-50,50,-48,48,-44,44,-42,42,-46,46,-50,50,-54,54,-52,52,-48,
    48,-44,44,-46,46,-50,50,-48,48,-44,44,-42,42,-46,46,-50,50,-48,48,-46,
    46,-50,50,-54,54,-58,58,-52,52,-48,48,-44,44,-46,46,-50,50,-54,54,-48,
    48,-44,44,-46,46,-50,50,-52,52,-48,48,-44,44,-42,42,-46,46,-50,50,-48,
    48,-44,44,-46,46,-50,50,-54,54,-50,50,-46,46,-44,44,-48,48,-52,52,-50,
    50,-46,46,-44,44,-48,48,-52,52,-54,54,-50,50,-46,46,-44,44,-48,48,-46,
    46,-50,50,-52,52,-48,48,-44,44,-46,46,-50,50,-54,54,-52,52,-48,48,-44,
    44,-46,46,-50,50,-52,52,-48,48,-44,44,-46,46,-50,50,-52,52,-56,54,-52,
    54,-58,58,-60,60,-64,64,-70,70,-66,70,-80,100,-76,66,-60,60,-54,54,-50,
    50,-48,48,-52,52,-56,56,-50,50,-48,48,-52,52,-56,56,-60,60,-70,80,-100,
    60,-54,54,-50,50,-48,48,-52,52,-56,56,-50,50,-46,46,-48,48,-52,52,-50,
    50,-46,46,-44,44,-48,48,-52,52,-50,50,-46,46,-48,48,-52,52,-50,50,-48,
    50,-54,54,-52,52,-48,48,-46,46,-50,50,-54,54,-58,58,-56,56,-52,52,-48,
    48,-50,50,-54,54,-56,56,-52,52,-48,48,-50,50,-54,54,-56,56,-52,52,-54,
    56,-52,52,-48,48,-50,50,-54,54,-58,60,-56,56,-52,52,-48,48,-50,50,-54,
    56,-52,52,-48,48,-50,50,-54,54,-56,56,-52,52,-48,48,-50,50,-54,54,-48,
    44,-48,48,-52,52,-50,50,-46,46,-44,44,-48,48,-52,52,-56,56,-50,50,-46,
    46,-44,44,-48,48,-50,50,-52,52,-48,48,-44,44,-42,42,-46,46,-50,50,-48,
    50,-46,46,-44,44,-48,48,-52,52,-50,50,-46,46,-44,44,-48,48,-52,52,-50,
    54,-50,50,-46,46,-44,44,-48,48,-50,50,-46,46,-42,42,-44,44,-48,48,-46,
    46,-50,50,-52,52,-48,48,-44,44,-48,48,-52,52,-56,56,-54,54,-50,50,-46,
    46,-48,48,-52,52,-54,54,-50,50,-56,79,-64,60,-52,52,-48,48,-50,50,-46,
    50,-54,54,-52,52,-48,48,-46,46,-50,50,-54,54,-52,52,-48,48,-46,46,-50,
    56,-52,52,-48,48,-50,50,-54,54,-52,52,-48,48,-50,50,-54,54,-52,52,-46,
    48,-52,52,-56,56,-54,54,-50,50,-48,48,-52,52,-56,56,-58,58,-54,54,-50,
    50,-48,48,-52,52,-54,54,-50,50,-46,46,-48,48,-52,52,-54,54,-50,50,-48,
    48,-50,50,-54,54,-52,52,-48,48,-46,46,-50,50,-54,54,-56,56,-52,52,-48,
    48,-50,50,-54,54,-58,58,-56,56,-52,52,-50,50,-54,54,-52,52,-48,48,-50,
    46,-50,50,-54,54,-52,52,-48,48,-44,44,-46,46,-50,50,-52,52,-48,48,-44,
    44,-46,46,-50,50,-54,54,-52,52,-48,48,-50,50,-54,54,-52,52,-48,48,-50,
    48,-52,52,-56,56,-58,58,-54,54,-50,50,-48,48,-52,52,-56,56,-54,54,-50,
    50,-48,48,-52,52,-56,56,-54,54,-50,50,-46,46,-50,50,-54,54,-52,52,-50,
    50,-54,54,-58,58,-56,56,-52,52,-50,50,-54,54,-58,58,-60,60,-56,56,-52,
    52,-50,50,-54,54,-56,56,-52,52,-48,48,-50,50,-54,54,-56,56,-52,52,-50,
    54,-58,58,-56,56,-52,52,-50,50,-54,54,-58,58,-60,60,-56,56,-52,52,-54,
    54,
]

traces = [r303a, rb30c, cca1, r480a, rad67, r7fa5, r0353, r82bd]

# phase: (times, label, rgba colour)
phases = [
    (pdiff_t, "Pdiff", "rgba(255,127,14,0.5)"),
    (pkikp_t, "PKIKP", "rgba(31,119,180,0.5)"),
    (pkikp_refl_t, "PKiKP", "rgba(214,39,40,0.5)"),
    (pkp_t, "PKP", "rgba(44,160,44,0.5)"),
    (pkp2_t, "PKP", "rgba(44,160,44,0.5)"),
]

FONT = "DejaVu Sans"
FS = 14
n = len(stations)

fig = make_subplots(rows=n, cols=1, shared_xaxes=True, vertical_spacing=0)


def px(x, y):
    # pixel position -> paper coords
    return (x - ML) / (W - ML - MR), (H - MB - y) / (H - MT - MB)


def fmt(v):
    return "%.1e" % v


for i in range(n):
    row = i + 1
    vals = np.array(traces[i], dtype=float) * 1e-9
    t = T0 + DT * np.arange(len(vals))
    fig.add_trace(go.Scatter(x=t, y=vals, mode="lines", line=dict(color="#1f77b4", width=1.2),
                             hoverinfo="skip", showlegend=False), row=row, col=1)

    tk = [y_tick[i], 0.0, -y_tick[i]]
    fig.update_yaxes(range=[-y_half[i], y_half[i]], tickmode="array", tickvals=tk,
                     ticktext=[fmt(v) for v in tk], row=row, col=1)

    xs = "" if row == 1 else str(row)
    for times, label, col in phases:
        fig.add_shape(type="line", xref="x" + xs, yref="y" + xs + " domain",
                      x0=times[i], x1=times[i], y0=0, y1=1, layer="above",
                      line=dict(color=col, width=1.5, dash="7px,3px"))
        fig.add_annotation(x=times[i], y=0, xref="x" + xs, yref="y" + xs + " domain",
                           text=label, showarrow=False, xanchor="right", yanchor="bottom",
                           xshift=-3, yshift=-1, font=dict(family=FONT, size=15, color=col))

    fig.add_annotation(x=0.01, y=1, xref="x" + xs + " domain", yref="y" + xs + " domain",
                       text=stations[i], showarrow=False, xanchor="left", yanchor="top",
                       yshift=-1, font=dict(family=FONT, size=FS, color="black"))

fig.update_xaxes(range=x_range, tickmode="array", tickvals=x_ticks,
                 ticktext=[str(v) for v in x_ticks], ticks="inside", ticklen=6, tickwidth=1,
                 tickcolor="black", showline=True, linecolor="black", linewidth=1.3,
                 mirror="allticks", showgrid=False, zeroline=False,
                 tickfont=dict(family=FONT, size=FS, color="black"))
fig.update_yaxes(ticks="inside", ticklen=6, tickwidth=1, tickcolor="black", showline=True,
                 linecolor="black", linewidth=1.3, mirror=True, showgrid=False,
                 zeroline=False, tickfont=dict(family=FONT, size=FS, color="black"))

# figure texts
title_lines = ["M4.4 Fiji region 2020-08-01 03:06:14",
               "from the Raspberry Shake Network and BGS seismometers CCA1, HTL & DYA",
               "depth: 573.02 km, distance: 16640.0 km."]
for k, line in enumerate(title_lines):
    x, y = px(950, 17 + 15.8 * k)
    fig.add_annotation(x=x, y=y, xref="paper", yref="paper", text=line, showarrow=False,
                       xanchor="center", yanchor="middle", font=dict(family=FONT, size=FS, color="black"))

x, y = px(17, 550)
fig.add_annotation(x=x, y=y, xref="paper", yref="paper", text="Velocity [m/s]", textangle=-90,
                   showarrow=False, xanchor="center", yanchor="middle",
                   font=dict(family=FONT, size=FS, color="black"))

x, y = px(18, 1081)
fig.add_annotation(x=x, y=y, xref="paper", yref="paper",
                   text='Channel: EHZ, filter: "bandpass", freqmin=1.3, freqmax=2.8, corners=4',
                   showarrow=False, xanchor="left", yanchor="middle",
                   font=dict(family=FONT, size=FS, color="black"))

x, y = px(950, 1081)
fig.add_annotation(x=x, y=y, xref="paper", yref="paper", text="Time since earthquake [s]",
                   showarrow=False, xanchor="center", yanchor="middle",
                   font=dict(family=FONT, size=FS, color="black"))

arrival_lines = [("First Arrivals at R7FA5", "black"),
                 ("Pdiff time: 984.41s", "#ff7f0e"),
                 ("PKIKP time: 1119.42s", "#1f77b4"),
                 ("PKP time: 1125.2s", "#2ca02c")]
for k, (txt, col) in enumerate(arrival_lines):
    x, y = px(1521, 1051 + 13.4 * k)
    fig.add_annotation(x=x, y=y, xref="paper", yref="paper", text=txt, showarrow=False,
                       xanchor="left", yanchor="middle", font=dict(family=FONT, size=FS, color=col))

fig.update_layout(width=W, height=H, margin=dict(l=ML, r=MR, t=MT, b=MB),
                  plot_bgcolor="white", paper_bgcolor="white",
                  font=dict(family=FONT, size=FS, color="black"), showlegend=False)

# no default page margin, so the figure sits at the window's top-left corner
fig.write_html("out.html", config={"displayModeBar": False},
               post_script="document.body.style.margin='0';document.body.style.overflow='hidden';")
